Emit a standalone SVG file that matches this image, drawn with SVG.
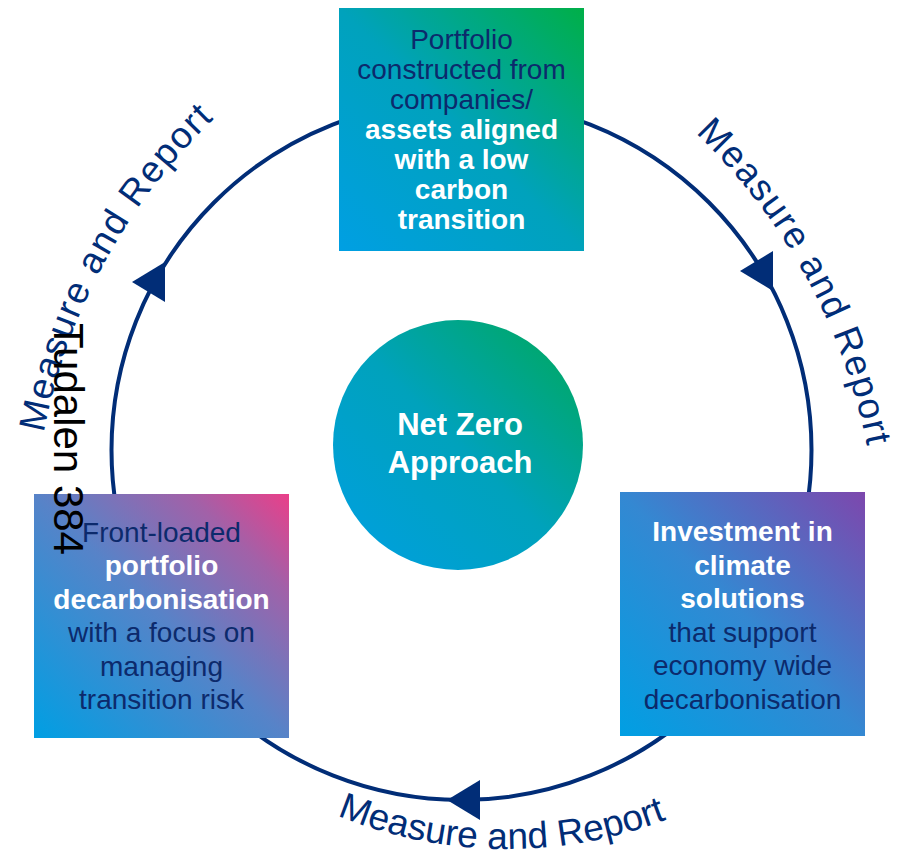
<svg xmlns="http://www.w3.org/2000/svg" xmlns:xlink="http://www.w3.org/1999/xlink" width="897" height="855" viewBox="0 0 897 855">
<defs>
<style>
.t{font-family:"Liberation Sans",Arial,sans-serif;font-size:28px;text-anchor:middle;}
.n{fill:#0C2A6C;}
.b{fill:#ffffff;font-weight:bold;}
.mr{font-family:"Liberation Sans",Arial,sans-serif;font-size:37px;fill:#012D77;}
.ring{fill:none;stroke:#012D77;stroke-width:4;}
.arr{fill:#012D77;}
</style>
<linearGradient id="gTop" x1="0" y1="1" x2="1" y2="0">
<stop offset="0" stop-color="#009FE3"/>
<stop offset="0.5" stop-color="#00A2BC"/>
<stop offset="1" stop-color="#00AF48"/>
</linearGradient>
<linearGradient id="gMid" x1="0" y1="1" x2="1" y2="0">
<stop offset="0" stop-color="#009FE3"/>
<stop offset="0.5" stop-color="#00A2BC"/>
<stop offset="1" stop-color="#00A956"/>
</linearGradient>
<linearGradient id="gLeft" x1="0" y1="1" x2="1" y2="0">
<stop offset="0" stop-color="#009FE3"/>
<stop offset="0.5" stop-color="#5783C8"/>
<stop offset="0.8" stop-color="#A261A8"/>
<stop offset="1" stop-color="#EA3F89"/>
</linearGradient>
<linearGradient id="gRight" x1="0" y1="1" x2="1" y2="0">
<stop offset="0" stop-color="#009FE3"/>
<stop offset="0.5" stop-color="#3488D2"/>
<stop offset="1" stop-color="#7D47AD"/>
</linearGradient>
<path id="arcLeft" d="M 33.2 539.4 A 590 590 0 0 1 298.5 51.2"/>
<path id="arcRight" d="M 611.3 66.3 A 590 590 0 0 1 878 554.3"/>
<path id="arcBottom" d="M 280.1 787.1 A 447 447 0 0 0 724.4 792.6"/>
<polygon id="tri" points="0,0 33,-20 33,20"/>
</defs>
<rect width="897" height="855" fill="#ffffff"/>

<g id="connectors">
<circle class="ring" cx="461.5" cy="450" r="350"/>
<use xlink:href="#tri" class="arr" x="132" y="282"/>
<use xlink:href="#tri" class="arr" x="740" y="271"/>
<use xlink:href="#tri" class="arr" x="447" y="800"/>
</g>

<g id="node-top">
<rect x="339" y="8" width="245" height="243" fill="url(#gTop)"/>
<text class="t n" x="461.5" y="49">Portfolio</text>
<text class="t n" x="461.5" y="79">constructed from</text>
<text class="t n" x="461.5" y="109">companies/</text>
<text class="t b" x="461.5" y="139">assets aligned</text>
<text class="t b" x="461.5" y="169">with a low</text>
<text class="t b" x="461.5" y="199">carbon</text>
<text class="t b" x="461.5" y="229">transition</text>
</g>

<g id="node-center">
<circle cx="458" cy="445" r="125" fill="url(#gMid)"/>
<text class="t b" x="460" y="435" style="font-size:31px">Net Zero</text>
<text class="t b" x="460" y="473" style="font-size:31px">Approach</text>
</g>

<g id="node-left">
<rect x="34" y="494" width="255" height="244" fill="url(#gLeft)"/>
<text class="t n" x="161.5" y="542">Front-loaded</text>
<text class="t b" x="161.5" y="575.4">portfolio</text>
<text class="t b" x="161.5" y="608.8">decarbonisation</text>
<text class="t n" x="161.5" y="642.2">with a focus on</text>
<text class="t n" x="161.5" y="675.6">managing</text>
<text class="t n" x="161.5" y="709">transition risk</text>
</g>

<g id="node-right">
<rect x="620" y="492" width="245" height="244" fill="url(#gRight)"/>
<text class="t b" x="742.5" y="541">Investment in</text>
<text class="t b" x="742.5" y="574.5">climate</text>
<text class="t b" x="742.5" y="608">solutions</text>
<text class="t n" x="742.5" y="641.5">that support</text>
<text class="t n" x="742.5" y="675">economy wide</text>
<text class="t n" x="742.5" y="708.5">decarbonisation</text>
</g>

<g id="labels">
<text class="mr" style="letter-spacing:1.5px"><textPath xlink:href="#arcLeft" startOffset="50%" text-anchor="middle">Measure and Report</textPath></text>
<text class="mr" style="letter-spacing:1.5px"><textPath xlink:href="#arcRight" startOffset="50%" text-anchor="middle">Measure and Report</textPath></text>
<text class="mr"><textPath xlink:href="#arcBottom" startOffset="50%" text-anchor="middle">Measure and Report</textPath></text>
<text transform="translate(54,323) rotate(90)" font-family="Liberation Sans, Arial, sans-serif" font-size="42" fill="#000000">Tudalen 384</text>
</g>
</svg>
